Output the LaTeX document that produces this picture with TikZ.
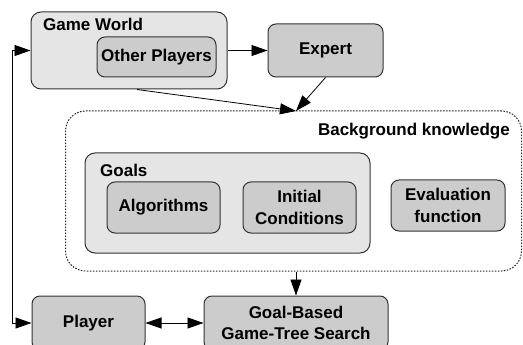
\documentclass[tikz,border=0pt]{standalone}
\usepackage{fontspec}
\setmainfont{Liberation Sans}
\usetikzlibrary{arrows.meta}
\begin{document}
\begin{tikzpicture}[x=1pt,y=-1pt,
  font=\fontsize{17}{21.5}\selectfont\bfseries,
  outerbox/.style={draw=black!80, fill=black!10, rounded corners=10pt, line width=1pt},
  innerbox/.style={draw=black!80, fill=black!20, rounded corners=8pt, line width=1pt, align=center, inner sep=0pt},
  lbl/.style={inner sep=0pt},
  tip/.tip={Triangle[length=16pt,width=11pt]},
  arr/.style={-tip, line width=0.8pt},
  darr/.style={tip-tip, line width=0.8pt},
  bkbox/.style={draw=black!85, line width=1pt, dash pattern=on 1.6pt off 1.4pt, rounded corners=20pt}
]
\useasboundingbox (0,0) rectangle (523,345);
% Game world
\node[outerbox, minimum width=196pt, minimum height=77pt] (gw) at (129,50.5) {};
\node[lbl, anchor=west] (gwl) at (43,24.5) {Game World};
\node[innerbox, minimum width=119pt, minimum height=40pt] (op) at (156.5,57) {Other Players};
% Expert
\node[innerbox, minimum width=115pt, minimum height=53pt] (ex) at (325.5,50.5) {Expert};
% Background knowledge
\node[bkbox, minimum width=456pt, minimum height=160pt] (bk) at (293.5,191) {};
\node[lbl, anchor=east] (bkl) at (510,131) {Background knowledge};
% Goals
\node[outerbox, minimum width=285pt, minimum height=100pt] (goals) at (227.5,203) {};
\node[lbl, anchor=west] (goalsl) at (100,170) {Goals};
\node[innerbox, minimum width=113pt, minimum height=51pt] (alg) at (163.5,207.5) {Algorithms};
\node[innerbox, minimum width=113pt, minimum height=51pt] (ic) at (299.5,207.5) {Initial\\Conditions};
\node[innerbox, minimum width=114pt, minimum height=51pt] (ev) at (448,205.5) {Evaluation\\function};
% Bottom row
\node[innerbox, minimum width=113pt, minimum height=54pt] (pl) at (88.5,323) {Player};
\node[innerbox, minimum width=184pt, minimum height=54pt] (gbs) at (296,323) {Goal-Based\\Game-Tree Search};
% Connectors
\coordinate (bktop) at (296,111);
\coordinate (fb) at (12,50.5);
\draw[arr] (gw.east) -- (ex.west);
\draw[arr] (ex.south) -- (bktop);
\draw[arr] ([xshift=8pt]gw.south) -- (bktop);
\draw[arr] (gbs.north |- bk.south) -- (gbs.north);
\draw[darr] (pl.east) -- (gbs.west);
\draw[darr] (gw.west) -- (fb) |- (pl.west);
\end{tikzpicture}
\end{document}
